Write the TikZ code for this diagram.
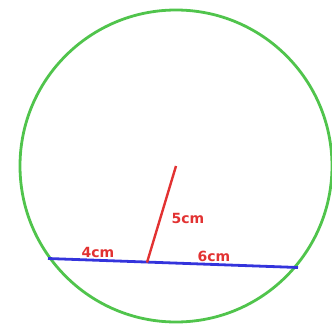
\documentclass[tikz,border=0pt]{standalone}
\usepackage{fontspec}
\setmainfont{DejaVu Sans}
\definecolor{circgreen}{RGB}{80,196,76}
\definecolor{chordblue}{RGB}{52,52,220}
\definecolor{lenred}{RGB}{226,50,50}
\begin{document}
\begin{tikzpicture}[x=1pt, y=-1pt,
    lbl/.style={text=lenred, font=\bfseries\fontsize{14}{16}\selectfont, inner sep=0pt}]
    \useasboundingbox (0,0) rectangle (332,324);
    % 圆与点
    \coordinate (O) at (176, 166);
    \coordinate (A) at (48, 258.5);
    \coordinate (B) at (298, 267.5);
    \coordinate (M) at (147, 262.5);
    \draw[circgreen, line width=2.8pt] (O) circle[radius=156pt];

    % 弦与线段
    \draw[chordblue, line width=2.8pt] (A) -- (B);
    \draw[lenred, line width=2.4pt] (M) -- (O);

    % 长度标注
    \node[lbl] (l4) at (98, 252) {4cm};
    \node[lbl] (l5) at (188, 218) {5cm};
    \node[lbl] (l6) at (214, 256.5) {6cm};
\end{tikzpicture}
\end{document}
